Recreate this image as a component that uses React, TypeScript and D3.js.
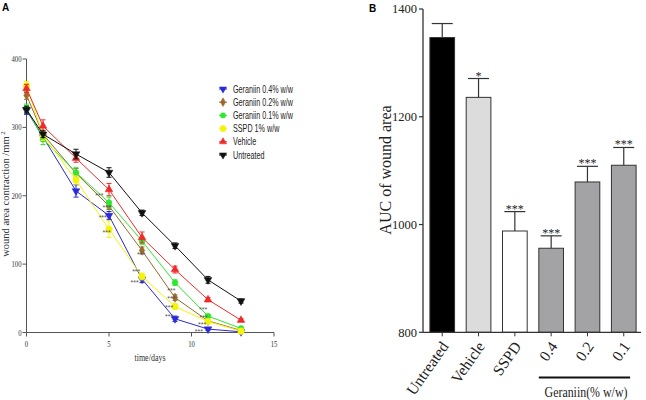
import React from "react";
import * as d3 from "d3";

// ---------- Panel A data ----------
const days = [0, 1, 3, 5, 7, 9, 11, 13];
const seriesNames = ["Geraniin 0.4% w/w", "Geraniin 0.2% w/w", "Geraniin 0.1% w/w", "SSPD 1% w/w", "Vehicle", "Untreated"];
const g04 = [325, 286, 207, 171, 78, 20, 5, 1];
const g02 = [347, 290, 233, 185, 120, 51, 17, 3];
const g01 = [328, 283, 234, 190, 134, 73, 24, 6];
const sspd = [361, 288, 223, 151, 82, 38, 16, 2];
const vehicle = [357, 302, 255, 209, 139, 92, 48, 18];
const untreated = [326, 290, 261, 234, 175, 127, 77, 46];
const g04Err = [6, 6, 9, 6, 5, 4, 2, 1];
const g02Err = [6, 6, 7, 5, 5, 4, 2, 1];
const g01Err = [6, 8, 7, 8, 5, 4, 2, 1];
const sspdErr = [6, 7, 6, 12, 5, 4, 2, 1];
const vehicleErr = [6, 9, 6, 9, 8, 5, 3, 2];
const untreatedErr = [5, 5, 7, 7, 4, 4, 5, 3];
const xTicksA = [0, 5, 10, 15];
const yTicksA = [0, 100, 200, 300, 400];
// significance annotations (day, value)
const starDays = [4.42, 4.86, 4.62, 4.86, 6.65, 6.55, 6.95, 8.78, 8.78, 8.64, 8.64, 10.7, 10.74, 10.64, 10.45];
const starVals = [202, 184, 170, 148, 91, 75, 116, 63, 51, 38, 25, 35, 24, 13, 3];

// ---------- Panel B data ----------
const barCats = ["Untreated", "Vehicle", "SSPD", "0.4", "0.2", "0.1"];
const barVals = [1347, 1236, 988, 956, 1079, 1110];
const barErrs = [26, 35, 36, 23, 29, 33];
const barSig = ["", "*", "***", "***", "***", "***"];
const yTicksB = [800, 1000, 1200, 1400];

const seriesValues = [g04, g02, g01, sspd, vehicle, untreated];
const seriesErrs = [g04Err, g02Err, g01Err, sspdErr, vehicleErr, untreatedErr];
const seriesColors = ["#2a2ad8", "#9a6a2e", "#2ee82e", "#f4f40a", "#ee2a2a", "#111111"];
const seriesSymbols = ["tdown", "diamond", "circle", "circle", "triangle", "tdown"];
const barFills = ["#000000", "#dcdcdc", "#ffffff", "#a3a3a6", "#a3a3a6", "#a3a3a6"];

function symPath(kind: string, size: number) {
  let t: any = d3.symbolCircle;
  if (kind === "diamond") t = d3.symbolDiamond;
  if (kind === "triangle" || kind === "tdown") t = d3.symbolTriangle;
  return d3.symbol().type(t).size(size)() as string;
}

function Marker({ kind, x, y, color, size }: any) {
  const rot = kind === "tdown" ? 180 : 0;
  return <path d={symPath(kind, size)} transform={`translate(${x},${y}) rotate(${rot})`} fill={color} stroke={color} strokeWidth={0.5} />;
}

function CText({ x, y, sx = 1, rot = 0, children, ...rest }: any) {
  return (
    <text transform={`translate(${x},${y}) rotate(${rot}) scale(${sx},1)`} {...rest}>
      {children}
    </text>
  );
}

export default function App() {
  // Panel A scales
  const xA = d3.scaleLinear().domain([0, 15]).range([26.5, 274]);
  const yA = d3.scaleLinear().domain([0, 400]).range([332.5, 59]);
  const line = d3.line<number>().x((_, i) => xA(days[i])).y((d) => yA(d));
  const axisA = "#555";
  const serif = "'Liberation Serif', 'Times New Roman', serif";
  const sans = "'Liberation Sans', Arial, sans-serif";

  // Panel B scales
  const xB = d3.scaleBand<string>().domain(barCats).range([423, 643]).paddingInner(0.32).paddingOuter(0.19);
  const yB = d3.scaleLinear().domain([800, 1400]).range([332.3, 9]);
  const bw = xB.bandwidth();

  const legendY0 = 89;
  const legendStep = 13.2;

  return (
    <svg width={646} height={400} style={{ position: "absolute", left: 0, top: 0, background: "#fff" }}>
      <rect x={0} y={0} width={646} height={400} fill="#fff" />
      {/* Panel labels */}
      <text x={2} y={11} fontFamily={sans} fontWeight="bold" fontSize={10}>A</text>
      <text x={369} y={12} fontFamily={sans} fontWeight="bold" fontSize={10}>B</text>

      {/* ===== Panel A ===== */}
      <g>
        {/* axes */}
        <line x1={xA(0)} x2={xA(0)} y1={yA(0)} y2={yA(400)} stroke={axisA} strokeWidth={1} />
        <line x1={xA(0)} x2={xA(15)} y1={yA(0)} y2={yA(0)} stroke={axisA} strokeWidth={1} />
        {yTicksA.map((t) => (
          <g key={"yt" + t}>
            <line x1={xA(0) - 4} x2={xA(0)} y1={yA(t)} y2={yA(t)} stroke={axisA} />
            <CText x={xA(0) - 5} y={yA(t) + 3} sx={0.75} textAnchor="end" fontFamily={serif} fontSize={9} fill="#333">{t}</CText>
          </g>
        ))}
        {xTicksA.map((t) => (
          <g key={"xt" + t}>
            <line x1={xA(t)} x2={xA(t)} y1={yA(0)} y2={yA(0) + 4} stroke={axisA} />
            <CText x={xA(t)} y={yA(0) + 14} sx={0.75} textAnchor="middle" fontFamily={serif} fontSize={9} fill="#333">{t}</CText>
          </g>
        ))}
        <CText x={150} y={361} sx={0.8} textAnchor="middle" fontFamily={serif} fontSize={10} fill="#333">time/days</CText>
        <text transform={`translate(9,194) rotate(-90)`} textAnchor="middle" fontFamily={serif} fontSize={10.5} fill="#333">
          wound area contraction /mm<tspan dy={-4} fontSize={7}> 2</tspan>
        </text>

        {/* series */}
        {seriesValues.map((vals, si) => (
          <g key={"s" + si}>
            <path d={line(vals) as string} fill="none" stroke={seriesColors[si]} strokeWidth={1} />
            {vals.map((v, i) => {
              const e = seriesErrs[si][i];
              const x = xA(days[i]);
              return (
                <g key={i}>
                  <line x1={x} x2={x} y1={yA(v - e)} y2={yA(v + e)} stroke={seriesColors[si]} strokeWidth={1} />
                  <line x1={x - 2.5} x2={x + 2.5} y1={yA(v - e)} y2={yA(v - e)} stroke={seriesColors[si]} strokeWidth={1} />
                  <line x1={x - 2.5} x2={x + 2.5} y1={yA(v + e)} y2={yA(v + e)} stroke={seriesColors[si]} strokeWidth={1} />
                  <Marker kind={seriesSymbols[si]} x={x} y={yA(v)} color={seriesColors[si]} size={seriesSymbols[si] === "circle" && si === 3 ? 34 : 26} />
                </g>
              );
            })}
          </g>
        ))}

        {/* significance stars */}
        {starDays.map((d, i) => (
          <text key={"st" + i} x={xA(d)} y={yA(starVals[i]) + 3.5} textAnchor="middle" fontFamily={sans} fontSize={7} fill="#555">***</text>
        ))}

        {/* legend */}
        {seriesNames.map((n, i) => {
          const y = legendY0 + i * legendStep;
          return (
            <g key={"lg" + i}>
              <line x1={219} x2={227} y1={y} y2={y} stroke={seriesColors[i]} strokeWidth={1} />
              <Marker kind={seriesSymbols[i]} x={223} y={y} color={seriesColors[i]} size={i === 3 ? 30 : 22} />
              <CText x={233} y={y + 3.5} sx={0.72} fontFamily={sans} fontSize={10} fill="#222">{n}</CText>
            </g>
          );
        })}
      </g>

      {/* ===== Panel B ===== */}
      <g>
        {barCats.map((c, i) => {
          const x0 = xB(c) as number;
          const cx = x0 + bw / 2;
          const top = yB(barVals[i]);
          const capY = yB(barVals[i] + barErrs[i]);
          return (
            <g key={"b" + c}>
              <rect x={x0} y={top} width={bw} height={yB(800) - top} fill={barFills[i]} stroke="#333" strokeWidth={1} />
              <line x1={cx} x2={cx} y1={top} y2={capY} stroke="#333" strokeWidth={1.2} />
              <line x1={cx - 10.5} x2={cx + 10.5} y1={capY} y2={capY} stroke="#333" strokeWidth={1.2} />
              {barSig[i] && (
                <text x={cx} y={capY + 1} textAnchor="middle" fontFamily={serif} fontSize={12} fill="#222">{barSig[i]}</text>
              )}
              <line x1={cx} x2={cx} y1={yB(800)} y2={yB(800) + 4} stroke="#333" strokeWidth={1} />
              <CText x={cx + 7} y={yB(800) + 14} rot={-55} textAnchor="end" fontFamily={serif} fontSize={15.5} fill="#222">{c}</CText>
            </g>
          );
        })}
        <line x1={423} x2={423} y1={yB(800)} y2={yB(1400)} stroke="#333" strokeWidth={1.3} />
        <line x1={423} x2={641} y1={yB(800)} y2={yB(800)} stroke="#333" strokeWidth={1.3} />
        {yTicksB.map((t) => (
          <g key={"ybt" + t}>
            <line x1={419} x2={423} y1={yB(t)} y2={yB(t)} stroke="#333" strokeWidth={1.2} />
            <text x={417} y={yB(t) + 4.3} textAnchor="end" fontFamily={serif} fontSize={12.5} fill="#222">{t}</text>
          </g>
        ))}
        <text transform={`translate(391,170) rotate(-90)`} textAnchor="middle" fontFamily={serif} fontSize={16} fill="#222">AUC of wound area</text>
        <line x1={(xB("0.4") as number)} x2={(xB("0.1") as number) + bw - 6} y1={377.5} y2={377.5} stroke="#111" strokeWidth={2} />
        <CText x={586} y={397} sx={0.85} textAnchor="middle" fontFamily={serif} fontSize={14} fill="#222">Geraniin(% w/w)</CText>
      </g>
    </svg>
  );
}
